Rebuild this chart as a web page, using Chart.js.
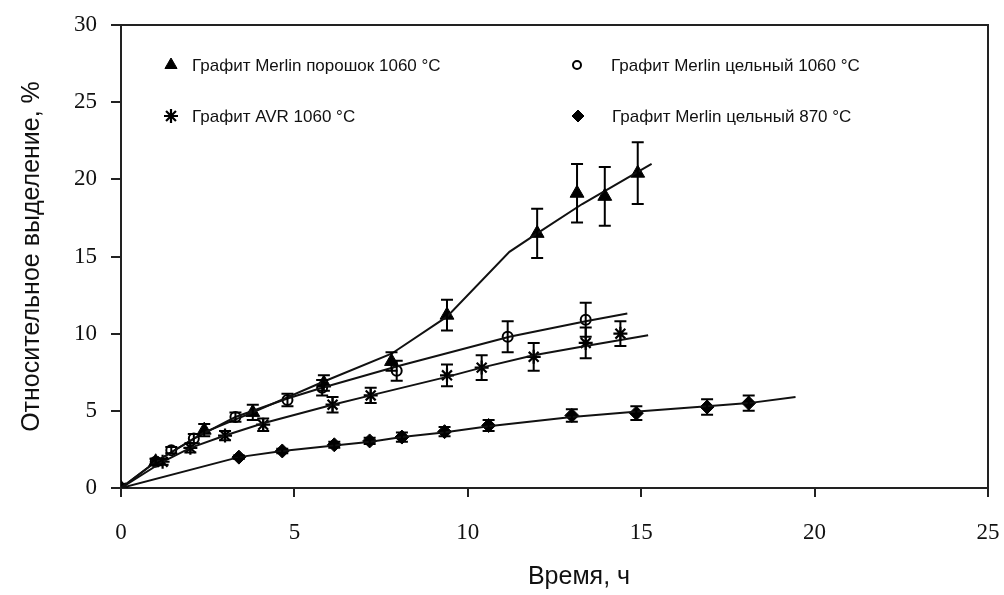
<!DOCTYPE html>
<html>
<head>
<meta charset="utf-8">
<script src="https://cdn.jsdelivr.net/npm/chart.js@4/dist/chart.umd.min.js"></script>
<style>
  html, body { margin: 0; padding: 0; background: #fff; }
</style>
</head>
<body>
<canvas id="myChart" width="1004" height="595"></canvas>
<script>
// --- data ---
const xTicks = [0, 5, 10, 15, 20, 25];
const yTicks = [0, 5, 10, 15, 20, 25, 30];

// Графит Merlin порошок 1060 °C (triangles)
const powderX   = [0, 1.0, 2.4, 3.8, 5.85, 7.8, 9.4, 12.0, 13.15, 13.95, 14.9];
const powderY   = [0, 1.7, 3.75, 4.9, 6.8, 8.2, 11.2, 16.5, 19.1, 18.9, 20.4];
const powderErr = [0, 0.2, 0.4, 0.5, 0.5, 0.6, 1.0, 1.6, 1.9, 1.9, 2.0];
const powderLineX = [0, 1.0, 2.4, 3.8, 5.85, 7.8, 9.4, 11.2, 12.0, 13.3, 15.3];
const powderLineY = [0, 1.7, 3.6, 4.9, 6.9, 8.7, 11.1, 15.3, 16.5, 18.4, 21.0];

// Графит Merlin цельный 1060 °C (open circles)
const solidX   = [0, 1.0, 1.45, 2.1, 3.3, 4.8, 5.8, 7.95, 11.15, 13.4];
const solidY   = [0, 1.7, 2.45, 3.2, 4.6, 5.7, 6.5, 7.6, 9.8, 10.9];
const solidErr = [0, 0.2, 0.2, 0.3, 0.3, 0.4, 0.5, 0.65, 1.0, 1.1];
const solidLineX = [0, 1.0, 2.1, 3.3, 4.8, 5.8, 8.0, 11.2, 13.4, 14.6];
const solidLineY = [0, 1.7, 3.2, 4.6, 5.8, 6.5, 7.9, 9.8, 10.8, 11.3];

// Графит AVR 1060 °C (stars)
const avrX   = [0, 1.2, 2.0, 3.0, 4.1, 6.1, 7.2, 9.4, 10.4, 11.9, 13.4, 14.4];
const avrY   = [0, 1.7, 2.6, 3.4, 4.1, 5.4, 6.0, 7.3, 7.8, 8.5, 9.4, 10.0];
const avrErr = [0, 0.2, 0.3, 0.3, 0.4, 0.5, 0.5, 0.7, 0.8, 0.9, 1.0, 0.8];
const avrLineX = [0, 1.2, 2.0, 3.0, 4.1, 6.1, 7.2, 9.4, 10.4, 11.9, 13.4, 15.2];
const avrLineY = [0, 1.7, 2.6, 3.4, 4.2, 5.4, 6.0, 7.2, 7.8, 8.6, 9.2, 9.9];

// Графит Merlin цельный 870 °C (diamonds)
const lowX   = [0, 3.4, 4.65, 6.15, 7.17, 8.1, 9.33, 10.6, 13.0, 14.86, 16.9, 18.1];
const lowY   = [0, 2.0, 2.4, 2.8, 3.05, 3.3, 3.65, 4.05, 4.7, 4.85, 5.25, 5.5];
const lowErr = [0, 0.1, 0.15, 0.2, 0.2, 0.3, 0.3, 0.35, 0.4, 0.45, 0.5, 0.5];
const lowLineX = [0, 3.4, 4.65, 6.15, 7.2, 8.1, 9.3, 10.6, 13.0, 14.9, 16.9, 18.1, 19.45];
const lowLineY = [0, 2.0, 2.4, 2.75, 3.0, 3.3, 3.6, 4.0, 4.6, 4.95, 5.3, 5.5, 5.9];

const seriesNames = [
  "Графит Merlin порошок 1060 °C",
  "Графит Merlin цельный 1060 °C",
  "Графит AVR 1060 °C",
  "Графит Merlin цельный 870 °C"
];

function pts(xs, ys) {
  return xs.map((x, i) => ({ x: x, y: ys[i] }));
}

const markerStyles = [
  { pointStyle: "triangle", radius: 8, fill: "#000", border: 1 },
  { pointStyle: "circle", radius: 5, fill: "#fff", border: 2 },
  { pointStyle: "star", radius: 7, fill: "#000", border: 2.2 },
  { pointStyle: "rectRot", radius: 7, fill: "#000", border: 1 }
];

function lineSet(xs, ys) {
  return {
    data: pts(xs, ys),
    showLine: true,
    borderColor: "#111",
    borderWidth: 2,
    pointRadius: 0,
    pointHoverRadius: 0,
    tension: 0
  };
}

function markSet(xs, ys, err, k) {
  const m = markerStyles[k];
  return {
    data: pts(xs, ys),
    errors: err,
    showLine: false,
    pointStyle: m.pointStyle,
    pointRadius: m.radius,
    pointBackgroundColor: m.fill,
    pointBorderColor: "#000",
    pointBorderWidth: m.border
  };
}

// error bars with caps
const errorBars = {
  id: "errorBars",
  afterDatasetsDraw(chart) {
    const ctx = chart.ctx;
    const xs = chart.scales.x, ys = chart.scales.y;
    ctx.save();
    ctx.strokeStyle = "#000";
    ctx.lineWidth = 2;
    chart.data.datasets.forEach(ds => {
      if (!ds.errors) return;
      ds.data.forEach((p, i) => {
        const e = ds.errors[i];
        if (!e) return;
        const px = xs.getPixelForValue(p.x);
        const top = ys.getPixelForValue(p.y + e);
        const bot = ys.getPixelForValue(p.y - e);
        ctx.beginPath();
        ctx.moveTo(px, top); ctx.lineTo(px, bot);
        ctx.moveTo(px - 6, top); ctx.lineTo(px + 6, top);
        ctx.moveTo(px - 6, bot); ctx.lineTo(px + 6, bot);
        ctx.stroke();
      });
    });
    ctx.restore();
  }
};

// box + legend + x title
const extras = {
  id: "extras",
  afterDraw(chart) {
    const ctx = chart.ctx;
    const a = chart.chartArea;
    ctx.save();
    ctx.strokeStyle = "#222";
    ctx.lineWidth = 2;
    ctx.beginPath();
    ctx.moveTo(a.left, a.top); ctx.lineTo(a.right, a.top); ctx.lineTo(a.right, a.bottom);
    ctx.stroke();

    const legendPos = [[171, 65], [577, 65], [171, 116], [578, 116]];
    const textX = [192, 611, 192, 612];
    const legendR = [7, 4, 7, 6];
    ctx.font = "17px 'Liberation Sans', Arial, sans-serif";
    ctx.textBaseline = "middle";
    legendPos.forEach((p, k) => {
      const m = markerStyles[k];
      ctx.fillStyle = m.fill;
      ctx.strokeStyle = "#000";
      ctx.lineWidth = m.border;
      Chart.helpers.drawPoint(ctx, { pointStyle: m.pointStyle, radius: legendR[k], rotation: 0, borderWidth: m.border }, p[0], p[1]);
      ctx.fillStyle = "#111";
      ctx.fillText(seriesNames[k], textX[k], p[1] + 1);
    });

    ctx.font = "25px 'Liberation Sans', Arial, sans-serif";
    ctx.textAlign = "center";
    ctx.textBaseline = "middle";
    ctx.fillText("Время, ч", 579, 577);
    ctx.restore();
  }
};

new Chart(document.getElementById("myChart"), {
  type: "scatter",
  data: {
    datasets: [
      lineSet(powderLineX, powderLineY),
      lineSet(solidLineX, solidLineY),
      lineSet(avrLineX, avrLineY),
      lineSet(lowLineX, lowLineY),
      markSet(powderX, powderY, powderErr, 0),
      markSet(solidX, solidY, solidErr, 1),
      markSet(avrX, avrY, avrErr, 2),
      markSet(lowX, lowY, lowErr, 3)
    ]
  },
  options: {
    responsive: false,
    animation: false,
    layout: { padding: { left: 0, top: 25, right: 16, bottom: 0 } },
    plugins: { legend: { display: false }, tooltip: { enabled: false } },
    scales: {
      x: {
        type: "linear",
        min: 0, max: 25,
        afterBuildTicks: s => { s.ticks = xTicks.map(v => ({ value: v })); },
        afterFit: s => { s.height = 107; s.paddingLeft = 0; s.paddingRight = 0; },
        grid: { drawOnChartArea: false, drawTicks: true, tickLength: 9, color: "#222", lineWidth: 2 },
        border: { display: true, color: "#222", width: 2 },
        ticks: {
          color: "#111",
          padding: 22,
          maxRotation: 0,
          font: { family: "'Liberation Serif', 'Times New Roman', serif", size: 23 }
        }
      },
      y: {
        type: "linear",
        min: 0, max: 30,
        afterBuildTicks: s => { s.ticks = yTicks.map(v => ({ value: v })); },
        afterFit: s => { s.width = 121; s.paddingTop = 0; s.paddingBottom = 0; },
        grid: { drawOnChartArea: false, drawTicks: true, tickLength: 10, color: "#222", lineWidth: 2 },
        border: { display: true, color: "#222", width: 2 },
        ticks: {
          color: "#111",
          padding: 14,
          font: { family: "'Liberation Serif', 'Times New Roman', serif", size: 23 }
        },
        title: {
          display: true,
          text: "Относительное выделение, %",
          color: "#111",
          padding: { top: 17, bottom: 0 },
          font: { family: "'Liberation Sans', Arial, sans-serif", size: 25, weight: "normal" }
        }
      }
    }
  },
  plugins: [errorBars, extras]
});
</script>
</body>
</html>
